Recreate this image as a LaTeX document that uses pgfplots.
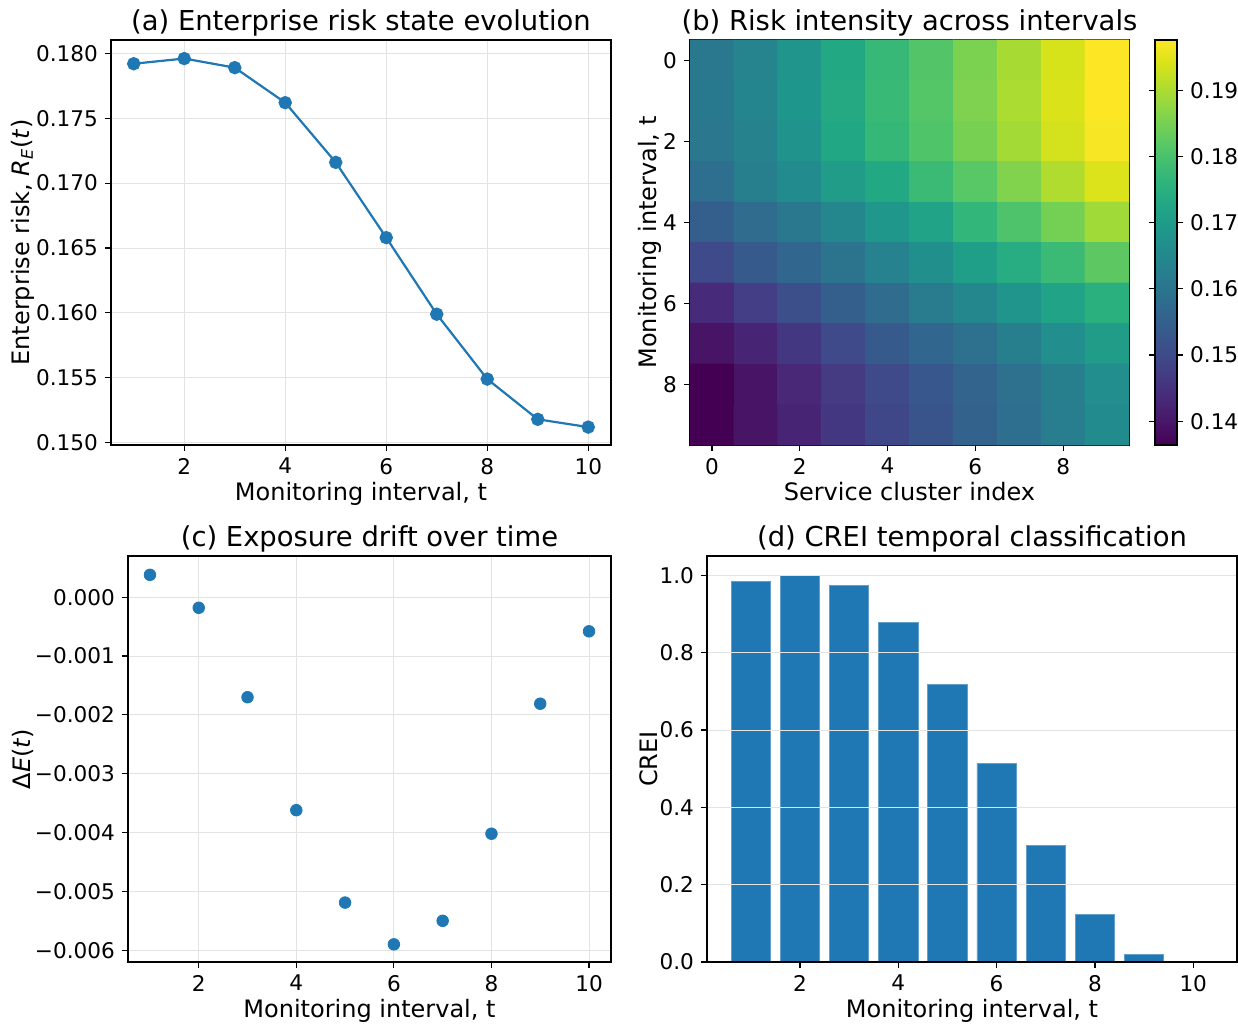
\documentclass[border=0pt]{standalone}
\usepackage{fontspec}
\setmainfont{DejaVu Sans}
\usepackage{pgfplots}
\usepackage{pgfplotstable}
\pgfplotsset{compat=1.18}
\definecolor{mplblue}{HTML}{1F77B4}

\pgfplotstableread{
t r
1 0.1792
2 0.1796
3 0.1789
4 0.1762
5 0.1716
6 0.1658
7 0.1599
8 0.1549
9 0.1518
10 0.1512
}\riskdata

\pgfplotstableread{
t d
1 0.00038
2 -0.00018
3 -0.00170
4 -0.00362
5 -0.00519
6 -0.00590
7 -0.00550
8 -0.00402
9 -0.00181
10 -0.00058
}\driftdata

\pgfplotstableread{
t c
1 0.985
2 1.000
3 0.973
4 0.878
5 0.717
6 0.514
7 0.302
8 0.124
9 0.020
10 0.000
}\creidata

\pgfplotstableread{
x y c
0 0 0.1609
1 0 0.1639
2 0 0.1682
3 0 0.1731
4 0 0.1774
5 0 0.1811
6 0 0.1854
7 0 0.1896
8 0 0.1939
9 0 0.1976
0 1 0.1612
1 1 0.1642
2 1 0.1685
3 1 0.1734
4 1 0.1777
5 1 0.1814
6 1 0.1857
7 1 0.1900
8 1 0.1942
9 1 0.1976
0 2 0.1606
1 2 0.1636
2 2 0.1679
3 2 0.1728
4 2 0.1771
5 2 0.1808
6 2 0.1851
7 2 0.1893
8 2 0.1936
9 2 0.1970
0 3 0.1584
1 3 0.1627
2 3 0.1658
3 3 0.1701
4 3 0.1731
5 3 0.1780
6 3 0.1817
7 3 0.1860
8 3 0.1903
9 3 0.1945
0 4 0.1548
1 4 0.1578
2 4 0.1609
3 4 0.1646
4 4 0.1688
5 4 0.1719
6 4 0.1768
7 4 0.1805
8 4 0.1847
9 4 0.1890
0 5 0.1499
1 5 0.1535
2 5 0.1566
3 5 0.1597
4 5 0.1633
5 5 0.1670
6 5 0.1707
7 5 0.1743
8 5 0.1780
9 5 0.1823
0 6 0.1437
1 6 0.1474
2 6 0.1511
3 6 0.1548
4 6 0.1578
5 6 0.1615
6 6 0.1646
7 6 0.1682
8 6 0.1719
9 6 0.1750
0 7 0.1395
1 7 0.1425
2 7 0.1462
3 7 0.1499
4 7 0.1535
5 7 0.1566
6 7 0.1590
7 7 0.1627
8 7 0.1664
9 7 0.1701
0 8 0.1364
1 8 0.1395
2 8 0.1431
3 8 0.1468
4 8 0.1499
5 8 0.1529
6 8 0.1560
7 8 0.1590
8 8 0.1627
9 8 0.1664
0 9 0.1364
1 9 0.1395
2 9 0.1425
3 9 0.1462
4 9 0.1493
5 9 0.1523
6 9 0.1554
7 9 0.1584
8 9 0.1621
9 9 0.1658
}\heatdata

\pgfplotsset{
 every axis/.append style={
  tick label style={font=\fontsize{10.8}{12}\selectfont},
  label style={font=\fontsize{12}{14}\selectfont},
  title style={font=\fontsize{13.7}{16}\selectfont, yshift=-7.5pt},
  /pgf/number format/assume math mode=true,
  axis line style={black, line width=0.6pt},
  tick style={black, line width=0.6pt},
  tick align=outside,
  major tick length=3pt,
 },
 every axis x label/.append style={yshift=3pt},
 every axis y label/.append style={yshift=-6pt},
 mystyle/.style={
  scale only axis,
  xtick pos=bottom, ytick pos=left,
  grid=major, major grid style={gray!22, line width=0.4pt},
  scaled ticks=false,
 }
}

\begin{document}
\begin{tikzpicture}
\useasboundingbox (0,0) rectangle (619pt,512pt);

% (a)
\begin{axis}[mystyle, at={(55.5pt,289.5pt)}, anchor=south west,
  width=250pt, height=202.5pt,
  xmin=0.55, xmax=10.45, ymin=0.14982, ymax=0.18103,
  xtick={2,4,6,8,10},
  ytick={0.150,0.155,0.160,0.165,0.170,0.175,0.180},
  yticklabel style={/pgf/number format/fixed, /pgf/number format/precision=3, /pgf/number format/fixed zerofill},
  title={(a) Enterprise risk state evolution},
  xlabel={Monitoring interval, t},
  ylabel={Enterprise risk, \textit{R}\textsubscript{\textit{E}}(\textit{t})}]
\addplot[mplblue, line width=1.1pt, mark=*, mark size=2.8pt, mark options={fill=mplblue, draw=mplblue}] table[x=t, y=r] {\riskdata};
\end{axis}

% (b)
\begin{axis}[scale only axis, at={(345pt,289.5pt)}, anchor=south west,
  width=219.5pt, height=202.5pt,
  xmin=-0.5, xmax=9.5, ymin=-0.5, ymax=9.5, y dir=reverse,
  enlargelimits=false,
  xtick={0,2,4,6,8}, ytick={0,2,4,6,8},
  xtick pos=bottom, ytick pos=left,
  title={(b) Risk intensity across intervals},
  xlabel={Service cluster index},
  ylabel={Monitoring interval, t},
  colormap/viridis,
  point meta min=0.1364, point meta max=0.1976,
  colorbar,
  colorbar style={at={(parent axis.north east)}, anchor=north west, xshift=4.5pt,
    width=11pt,
    ytick={0.14,0.15,0.16,0.17,0.18,0.19},
    yticklabel style={/pgf/number format/fixed, /pgf/number format/precision=2, /pgf/number format/fixed zerofill},
    scaled ticks=false}]
\addplot[matrix plot*, mesh/cols=10, point meta=explicit] table[x=x, y=y, meta=c] {\heatdata};
\end{axis}

% (c)
\begin{axis}[mystyle, at={(64pt,31pt)}, anchor=south west,
  width=241.5pt, height=203pt,
  xmin=0.55, xmax=10.45, ymin=-0.0062, ymax=0.0007,
  xtick={2,4,6,8,10},
  ytick={-0.006,-0.005,-0.004,-0.003,-0.002,-0.001,0},
  yticklabels={−0.006,−0.005,−0.004,−0.003,−0.002,−0.001,0.000},
  title={(c) Exposure drift over time},
  xlabel={Monitoring interval, t},
  ylabel={Δ\textit{E}(\textit{t})}]
\addplot[only marks, mark=*, mark size=2.9pt, mark options={fill=mplblue, draw=mplblue}] table[x=t, y=d] {\driftdata};
\end{axis}

% (d)
\begin{axis}[mystyle, at={(353.5pt,31pt)}, anchor=south west,
  width=265pt, height=203pt,
  xmin=0.11, xmax=10.89, ymin=0, ymax=1.05,
  xmajorgrids=false,
  axis on top,
  xtick={2,4,6,8,10},
  ytick={0,0.2,0.4,0.6,0.8,1.0},
  yticklabel style={/pgf/number format/fixed, /pgf/number format/precision=1, /pgf/number format/fixed zerofill},
  title={(d) CREI temporal classification},
  xlabel={Monitoring interval, t},
  ylabel={CREI}]
\addplot[ybar, bar width=0.8, fill=mplblue, draw=mplblue!70!white, line width=0.3pt] table[x=t, y=c] {\creidata};
\end{axis}
\end{tikzpicture}
\end{document}
